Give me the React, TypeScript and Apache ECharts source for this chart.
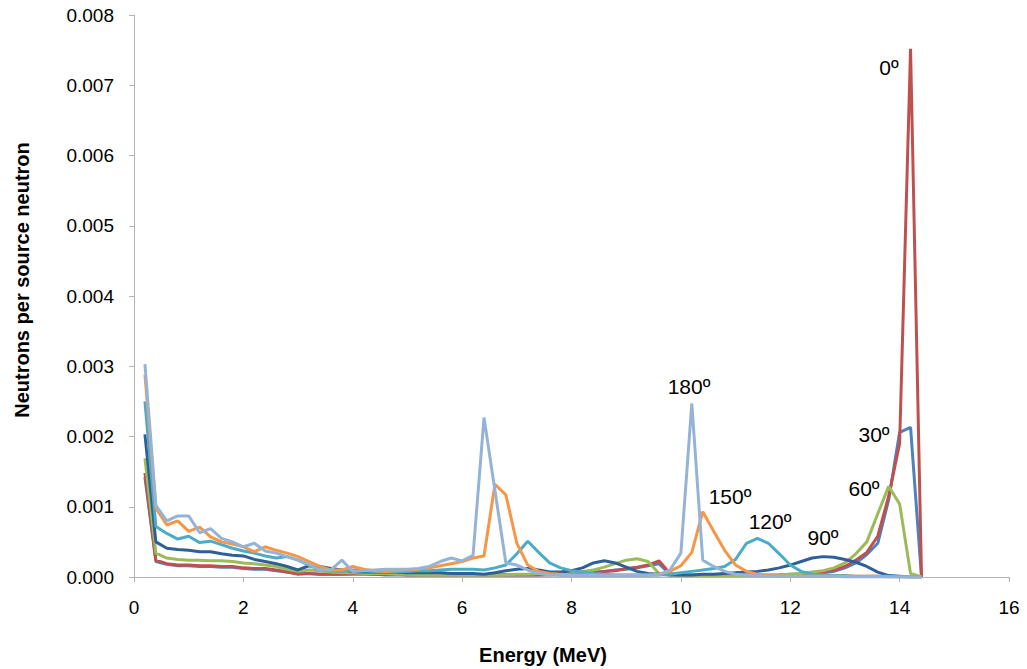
import React, { useEffect, useRef } from "react";
import * as echarts from "echarts";

const energies = [
  0.2, 0.4, 0.6, 0.8, 1.0, 1.2, 1.4, 1.6, 1.8, 2.0,
  2.2, 2.4, 2.6, 2.8, 3.0, 3.2, 3.4, 3.6, 3.8, 4.0,
  4.2, 4.4, 4.6, 4.8, 5.0, 5.2, 5.4, 5.6, 5.8, 6.0,
  6.2, 6.4, 6.6, 6.8, 7.0, 7.2, 7.4, 7.6, 7.8, 8.0,
  8.2, 8.4, 8.6, 8.8, 9.0, 9.2, 9.4, 9.6, 9.8, 10.0,
  10.2, 10.4, 10.6, 10.8, 11.0, 11.2, 11.4, 11.6, 11.8, 12.0,
  12.2, 12.4, 12.6, 12.8, 13.0, 13.2, 13.4, 13.6, 13.8, 14.0,
  14.2, 14.4,
];

const deg30 = [
  0.00142, 0.00022, 0.00018, 0.00016, 0.00016, 0.00015, 0.00015, 0.00014, 0.00014, 0.00012,
  0.00011, 0.00011, 0.00009, 0.00007, 0.00005, 0.00005, 0.00004, 0.00004, 0.00004, 0.00004,
  0.00004, 0.00004, 0.00003, 0.00003, 0.00003, 0.00003, 0.00003, 0.00003, 0.00003, 0.00003,
  0.00003, 0.00003, 0.00003, 0.00003, 0.00003, 0.00003, 0.00003, 0.00004, 0.00004, 0.00005,
  0.00006, 0.00007, 0.00008, 0.0001, 0.00011, 0.00013, 0.00016, 0.00019, 0.00004, 0.00003,
  0.00003, 0.00003, 0.00003, 0.00003, 0.00003, 0.00003, 0.00003, 0.00003, 0.00003, 0.00004,
  0.00004, 0.00005, 0.00006, 0.00008, 0.00013, 0.0002, 0.00032, 0.00048, 0.0011, 0.00206,
  0.00213, 0,
];

const deg0 = [
  0.00148, 0.00024, 0.00019, 0.00017, 0.00017, 0.00016, 0.00016, 0.00015, 0.00015, 0.00013,
  0.00012, 0.00012, 0.0001, 0.00007, 0.00004, 0.00005, 0.00004, 0.00004, 0.00004, 0.00005,
  0.00005, 0.00004, 0.00004, 0.00004, 0.00003, 0.00003, 0.00003, 0.00003, 0.00003, 0.00003,
  0.00003, 0.00003, 0.00003, 0.00003, 0.00003, 0.00003, 0.00003, 0.00003, 0.00004, 0.00004,
  0.00005, 0.00006, 0.00008, 0.00009, 0.00012, 0.00014, 0.00017, 0.00023, 0.00005, 0.00002,
  0.00002, 0.00002, 0.00002, 0.00002, 0.00002, 0.00002, 0.00002, 0.00002, 0.00002, 0.00003,
  0.00004, 0.00005, 0.00007, 0.0001, 0.00015, 0.00024, 0.00035, 0.00058, 0.00115, 0.0019,
  0.00752, 0,
];

const deg60 = [
  0.00169, 0.00034, 0.00027, 0.00025, 0.00024, 0.00024, 0.00023, 0.00023, 0.00022, 0.0002,
  0.00019, 0.00017, 0.00015, 0.00011, 0.00008, 0.0001, 0.00009, 0.00007, 0.00006, 0.00006,
  0.00005, 0.00005, 0.00005, 0.00004, 0.00004, 0.00003, 0.00003, 0.00003, 0.00003, 0.00003,
  0.00003, 0.00003, 0.00003, 0.00003, 0.00004, 0.00004, 0.00005, 0.00005, 0.00006, 0.00007,
  0.00008, 0.0001, 0.00014, 0.00019, 0.00024, 0.00026, 0.00022, 0.00005, 0.00003, 0.00002,
  0.00002, 0.00002, 0.00002, 0.00002, 0.00002, 0.00002, 0.00002, 0.00002, 0.00003, 0.00004,
  0.00005, 0.00007, 0.00009, 0.00013, 0.0002, 0.00033, 0.0005, 0.0009, 0.00129, 0.00104,
  0.00005, 0,
];

const deg90 = [
  0.00203, 0.0005, 0.00041, 0.00039, 0.00038, 0.00036, 0.00036, 0.00033, 0.00031, 0.0003,
  0.00025, 0.00022, 0.00019, 0.00015, 0.0001, 0.00016, 0.00015, 0.00012, 0.0001, 0.00008,
  0.00007, 0.00007, 0.00007, 0.00007, 0.00006, 0.00006, 0.00006, 0.00006, 0.00005, 0.00005,
  0.00005, 0.00004, 0.00006, 0.00009, 0.00011, 0.00012, 0.0001, 0.00007, 0.00007, 0.00009,
  0.00013, 0.0002, 0.00023, 0.0002, 0.00014, 0.00008, 0.00005, 0.00004, 0.00003, 0.00003,
  0.00003, 0.00004, 0.00004, 0.00005, 0.00006, 0.00007, 0.00008, 0.0001, 0.00013, 0.00017,
  0.00022, 0.00027, 0.00029, 0.00028, 0.00025, 0.00021, 0.00015, 0.00007, 0.00002, 0.00001,
  0, 0,
];

const deg120 = [
  0.0025, 0.00072, 0.00062, 0.00054, 0.00058, 0.00049, 0.00051, 0.00046, 0.00041, 0.00037,
  0.00034, 0.0003, 0.00027, 0.00029, 0.00024, 0.00017, 0.0001, 0.00009, 0.00008, 0.0001,
  0.00009, 0.00008, 0.00008, 0.00008, 0.00008, 0.00009, 0.00009, 0.0001, 0.00011, 0.00011,
  0.00011, 0.0001, 0.00013, 0.00017, 0.00033, 0.00051, 0.00035, 0.0002, 0.00013, 0.00009,
  0.00007, 0.00005, 0.00004, 0.00003, 0.00003, 0.00003, 0.00003, 0.00003, 0.00004, 0.00006,
  0.00008, 0.0001, 0.00012, 0.00015, 0.00025, 0.00048, 0.00055, 0.00048, 0.00033, 0.00017,
  0.00008, 0.00004, 0.00003, 0.00002, 0.00002, 0.00001, 0.00001, 0.00001, 0.00001, 0,
  0, 0,
];

const deg150 = [
  0.00288, 0.00098, 0.00074, 0.0008, 0.00065, 0.00071, 0.00057, 0.0005, 0.00047, 0.00043,
  0.00036, 0.00043, 0.00038, 0.00034, 0.00029, 0.00022, 0.00015, 0.0001, 0.0001, 0.00015,
  0.00011, 0.00009, 0.00008, 0.00009, 0.0001, 0.00011, 0.00013, 0.00016, 0.00019, 0.00022,
  0.00027, 0.0003, 0.00132, 0.00117, 0.00048, 0.00017, 0.00008, 0.00005, 0.00004, 0.00003,
  0.00003, 0.00003, 0.00003, 0.00003, 0.00003, 0.00003, 0.00003, 0.00004, 0.00008, 0.00016,
  0.00035, 0.00093, 0.00065, 0.00038, 0.00017, 0.00008, 0.00004, 0.00002, 0.00001, 0.00001,
  0.00001, 0.00001, 0.00001, 0.00001, 0.00001, 0.00001, 0.00001, 0.00001, 0, 0,
  0, 0,
];

const deg180 = [
  0.00303, 0.00102, 0.0008, 0.00087, 0.00087, 0.00063, 0.00069, 0.00055, 0.0005, 0.00043,
  0.00048, 0.00037, 0.00034, 0.00029, 0.00024, 0.00018, 0.0001, 0.0001, 0.00024, 0.00008,
  0.00009, 0.0001, 0.00011, 0.00011, 0.00011, 0.00012, 0.00015, 0.00022, 0.00027, 0.00023,
  0.00031, 0.00227, 0.00123, 0.0002, 0.00017, 0.0001, 0.00005, 0.00003, 0.00002, 0.00002,
  0.00002, 0.00002, 0.00002, 0.00002, 0.00002, 0.00002, 0.00002, 0.00003, 0.0001, 0.00034,
  0.00247, 0.00024, 0.00015, 0.00008, 0.00004, 0.00003, 0.00002, 0.00001, 0.00001, 0.00001,
  0.00001, 0.00001, 0.00001, 0.00001, 0, 0, 0, 0, 0, 0,
  0, 0,
];

const seriesNames = ["30º", "0º", "60º", "90º", "120º", "150º", "180º"];
const seriesValues = [deg30, deg0, deg60, deg90, deg120, deg150, deg180];
const seriesColors = ["#4F81BD", "#C0504D", "#9BBB59", "#2F5F98", "#4BACC6", "#F79646", "#95B3D7"];

const xTitle = "Energy (MeV)";
const yTitle = "Neutrons per source neutron";

const annotations = [
  { text: "0º", x: 889, y: 67 },
  { text: "30º", x: 874, y: 434 },
  { text: "60º", x: 864, y: 488 },
  { text: "90º", x: 823, y: 537 },
  { text: "120º", x: 770, y: 521 },
  { text: "150º", x: 730, y: 496 },
  { text: "180º", x: 689, y: 386 },
];

const FONT = "'Liberation Sans', Arial, Helvetica, sans-serif";

export default function App() {
  const ref = useRef<HTMLDivElement>(null);

  useEffect(() => {
    if (!ref.current) return;
    const chart = echarts.init(ref.current, null, { renderer: "svg" });
    const option = {
      animation: false,
      backgroundColor: "#ffffff",
      textStyle: { fontFamily: FONT },
      grid: { left: 134, right: 18, top: 15, bottom: 92, containLabel: false },
      xAxis: {
        type: "value",
        min: 0,
        max: 16,
        interval: 2,
        axisLine: { show: true, lineStyle: { color: "#B3B3B3", width: 1 } },
        axisTick: { show: true, length: 5, lineStyle: { color: "#B3B3B3" } },
        axisLabel: { fontFamily: FONT, fontSize: 19, color: "#000", margin: 21 },
        splitLine: { show: false },
      },
      yAxis: {
        type: "value",
        min: 0,
        max: 0.008,
        interval: 0.001,
        axisLine: { show: true, lineStyle: { color: "#B3B3B3", width: 1 } },
        axisTick: { show: true, length: 5, lineStyle: { color: "#B3B3B3" } },
        axisLabel: {
          fontFamily: FONT,
          fontSize: 19,
          color: "#000",
          margin: 20,
          formatter: (v: number) => v.toFixed(3),
        },
        splitLine: { show: false },
      },
      series: seriesNames.map((name, si) => ({
        name,
        type: "line",
        data: energies.map((e, i) => [e, seriesValues[si][i]]),
        showSymbol: false,
        symbol: "none",
        smooth: false,
        lineStyle: { color: seriesColors[si], width: 3 },
        itemStyle: { color: seriesColors[si] },
        z: 2 + si,
      })),
      graphic: [
        {
          type: "text",
          x: 543,
          y: 655,
          style: {
            text: xTitle,
            fontFamily: FONT,
            fontSize: 20,
            fontWeight: "bold",
            fill: "#000",
            textAlign: "center",
            textVerticalAlign: "middle",
          },
        },
        {
          type: "text",
          x: 22,
          y: 280,
          rotation: Math.PI / 2,
          style: {
            text: yTitle,
            fontFamily: FONT,
            fontSize: 20,
            fontWeight: "bold",
            fill: "#000",
            textAlign: "center",
            textVerticalAlign: "middle",
          },
        },
        ...annotations.map((a) => ({
          type: "text",
          x: a.x,
          y: a.y,
          z: 100,
          style: {
            text: a.text,
            fontFamily: FONT,
            fontSize: 21,
            fill: "#000",
            textAlign: "center",
            textVerticalAlign: "middle",
          },
        })),
      ],
    };
    chart.setOption(option as any);
    return () => chart.dispose();
  }, []);

  return (
    <div
      ref={ref}
      style={{ position: "fixed", left: 0, top: 0, width: 1027, height: 669, background: "#fff" }}
    />
  );
}
